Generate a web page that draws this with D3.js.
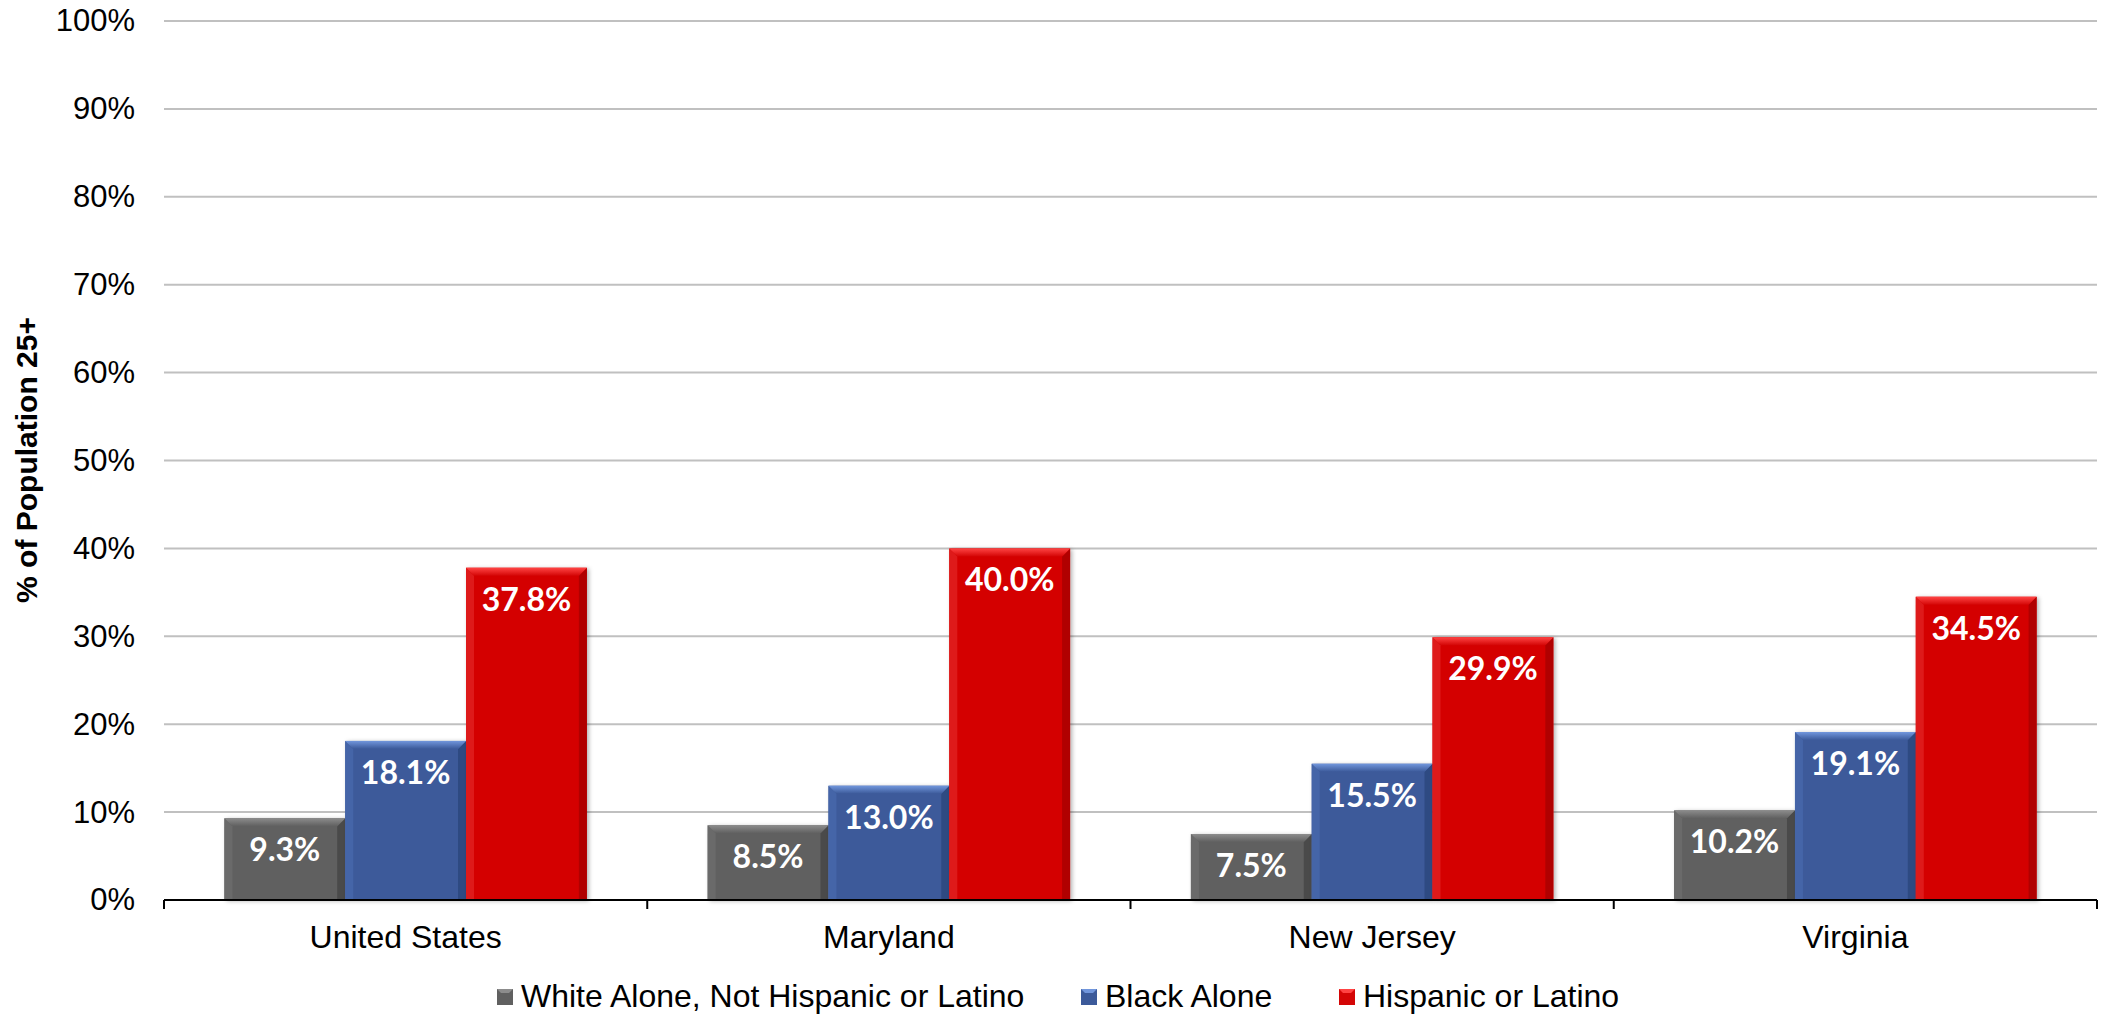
<!DOCTYPE html>
<html>
<head>
<meta charset="utf-8">
<script src="https://cdn.jsdelivr.net/npm/d3@7"></script>
<style>
  body { margin: 0; background: #fff; }
  svg { display: block; }
</style>
</head>
<body>
<div id="chart"></div>
<script>
// chart data
var categories = ["United States", "Maryland", "New Jersey", "Virginia"];
var seriesNames = ["White Alone, Not Hispanic or Latino", "Black Alone", "Hispanic or Latino"];
var whiteValues = [9.3, 8.5, 7.5, 10.2];
var blackValues = [18.1, 13.0, 15.5, 19.1];
var hispanicValues = [37.8, 40.0, 29.9, 34.5];
var yTicks = [0, 10, 20, 30, 40, 50, 60, 70, 80, 90, 100];

var width = 2109, height = 1016;
var plot = { left: 164, right: 2097, top: 21, bottom: 900 };

// colours: base, top bevel, left edge, right edge
var palette = [
  { base: "#606060", top: "#8c8c8c", left: "#6a6a6a", right: "#4a4a4a" },
  { base: "#3c5a9a", top: "#7196dc", left: "#4565a8", right: "#2e4a82" },
  { base: "#d40606", top: "#ff4444", left: "#de1a1a", right: "#b00000" }
];

var allValues = [whiteValues, blackValues, hispanicValues];
var rows = [];
categories.forEach(function(c, i) {
  seriesNames.forEach(function(s, j) {
    rows.push({ category: c, series: j, value: allValues[j][i] });
  });
});

var svg = d3.select("#chart").append("svg")
  .attr("width", width)
  .attr("height", height);

var defs = svg.append("defs");
defs.append("filter")
  .attr("id", "shadow")
  .attr("x", "-10%").attr("y", "-10%")
  .attr("width", "130%").attr("height", "130%")
  .append("feDropShadow")
  .attr("dx", 2).attr("dy", 1)
  .attr("stdDeviation", 2)
  .attr("flood-color", "#000")
  .attr("flood-opacity", 0.3);

palette.forEach(function(p, j) {
  var g = defs.append("linearGradient")
    .attr("id", "topgrad" + j)
    .attr("x1", 0).attr("y1", 0).attr("x2", 0).attr("y2", 1);
  g.append("stop").attr("offset", "0%").attr("stop-color", p.top);
  g.append("stop").attr("offset", "100%").attr("stop-color", p.base);
});

var yScale = d3.scaleLinear()
  .domain([0, 100])
  .range([plot.bottom, plot.top]);

var x0 = d3.scaleBand()
  .domain(categories)
  .range([plot.left, plot.right])
  .padding(0);

var x1 = d3.scaleBand()
  .domain(d3.range(seriesNames.length))
  .range([0, x0.bandwidth()])
  .paddingInner(0)
  .paddingOuter(0.5);

// gridlines
svg.append("g")
  .selectAll("line")
  .data(yTicks.filter(function(t) { return t > 0; }))
  .enter()
  .append("line")
  .attr("x1", plot.left)
  .attr("x2", plot.right)
  .attr("y1", function(d) { return yScale(d); })
  .attr("y2", function(d) { return yScale(d); })
  .attr("stroke", "#c0c0c0")
  .attr("stroke-width", 2);

// y axis labels
var yAxis = d3.axisLeft(yScale)
  .tickValues(yTicks)
  .tickFormat(function(d) { return d + "%"; })
  .tickSize(0)
  .tickPadding(29);

svg.append("g")
  .attr("transform", "translate(" + plot.left + ",0)")
  .call(yAxis)
  .call(function(g) { g.select(".domain").remove(); })
  .selectAll("text")
  .attr("font-family", "Liberation Sans, Arial, sans-serif")
  .attr("font-size", 31)
  .attr("fill", "#000");

// y axis title
svg.append("text")
  .attr("transform", "translate(37,460) rotate(-90)")
  .attr("text-anchor", "middle")
  .attr("font-family", "Liberation Sans, Arial, sans-serif")
  .attr("font-weight", "bold")
  .attr("font-size", 30)
  .attr("fill", "#000")
  .text("% of Population 25+");

// bars
var bevel = 8;
var bars = svg.append("g")
  .selectAll("g")
  .data(rows)
  .enter()
  .append("g")
  .attr("transform", function(d) {
    return "translate(" + (x0(d.category) + x1(d.series)) + "," + yScale(d.value) + ")";
  });

bars.append("rect")
  .attr("width", x1.bandwidth())
  .attr("height", function(d) { return plot.bottom - yScale(d.value); })
  .attr("fill", function(d) { return palette[d.series].base; })
  .attr("filter", "url(#shadow)");

bars.append("path")
  .attr("d", function(d) {
    var h = plot.bottom - yScale(d.value), b = Math.min(bevel, h);
    return "M0,0L" + b + "," + b + "L" + b + "," + h + "L0," + h + "Z";
  })
  .attr("fill", function(d) { return palette[d.series].left; });

bars.append("path")
  .attr("d", function(d) {
    var w = x1.bandwidth(), h = plot.bottom - yScale(d.value), b = Math.min(bevel, h);
    return "M" + w + ",0L" + (w - b) + "," + b + "L" + (w - b) + "," + h + "L" + w + "," + h + "Z";
  })
  .attr("fill", function(d) { return palette[d.series].right; });

bars.append("path")
  .attr("d", function(d) {
    var w = x1.bandwidth(), h = plot.bottom - yScale(d.value), b = Math.min(bevel, h);
    return "M0,0L" + w + ",0L" + (w - b) + "," + b + "L" + b + "," + b + "Z";
  })
  .attr("fill", function(d) { return "url(#topgrad" + d.series + ")"; });

// data labels
bars.append("text")
  .attr("x", x1.bandwidth() / 2)
  .attr("y", 43)
  .attr("text-anchor", "middle")
  .attr("font-family", "Lato, 'Noto Sans', sans-serif")
  .attr("font-weight", "bold")
  .attr("font-size", 32)
  .attr("fill", "#fff")
  .text(function(d) { return d.value.toFixed(1) + "%"; });

// x axis
svg.append("line")
  .attr("x1", plot.left)
  .attr("x2", plot.right)
  .attr("y1", plot.bottom)
  .attr("y2", plot.bottom)
  .attr("stroke", "#000")
  .attr("stroke-width", 2);

var boundaries = categories.map(function(c) { return x0(c); }).concat([plot.right]);
svg.append("g")
  .selectAll("line")
  .data(boundaries)
  .enter()
  .append("line")
  .attr("x1", function(d) { return d; })
  .attr("x2", function(d) { return d; })
  .attr("y1", plot.bottom)
  .attr("y2", plot.bottom + 9)
  .attr("stroke", "#000")
  .attr("stroke-width", 2);

svg.append("g")
  .selectAll("text")
  .data(categories)
  .enter()
  .append("text")
  .attr("x", function(d) { return x0(d) + x0.bandwidth() / 2; })
  .attr("y", 948)
  .attr("text-anchor", "middle")
  .attr("font-family", "Liberation Sans, Arial, sans-serif")
  .attr("font-size", 32)
  .attr("fill", "#000")
  .text(function(d) { return d; });

// legend
var legendX = [497, 1081, 1339];
var legend = svg.append("g")
  .selectAll("g")
  .data(seriesNames)
  .enter()
  .append("g")
  .attr("transform", function(d, i) { return "translate(" + legendX[i] + ",989)"; });

legend.append("rect")
  .attr("width", 16)
  .attr("height", 16)
  .attr("fill", function(d, i) { return palette[i].base; });

legend.append("path")
  .attr("d", "M0,0L16,0L12,4L4,4Z")
  .attr("fill", function(d, i) { return palette[i].top; });

legend.append("text")
  .attr("x", 24)
  .attr("y", 18)
  .attr("font-family", "Liberation Sans, Arial, sans-serif")
  .attr("font-size", 32)
  .attr("fill", "#000")
  .text(function(d) { return d; });
</script>
</body>
</html>
